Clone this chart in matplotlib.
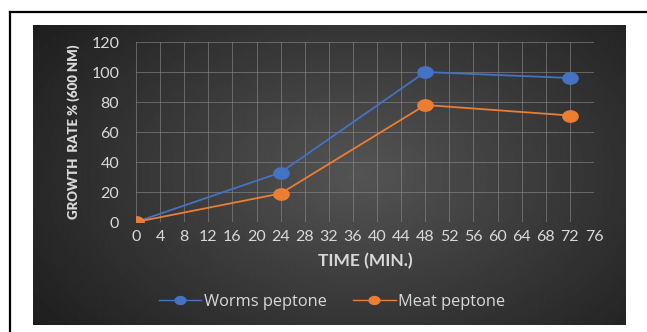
import numpy as np
import matplotlib
matplotlib.use("Agg")
import matplotlib.pyplot as plt
from matplotlib.lines import Line2D
from matplotlib.path import Path

time_min = [0, 24, 48, 72]
worms = [0, 33, 100, 96]
meat = [0, 19, 78, 71]
xticks = list(range(0, 77, 4))
yticks = list(range(0, 121, 20))

BLUE = "#4472C4"
ORANGE = "#ED7D31"
TXT = "#D9D9D9"

W, H = 647, 332
fig = plt.figure(figsize=(W / 100, H / 100), dpi=100)
fig.patch.set_facecolor("white")

# outer frame lines
fig.add_artist(Line2D([10 / W, 10 / W], [0, 1 - 12 / H], color="black", lw=1.6))
fig.add_artist(Line2D([10 / W, 1], [1 - 12 / H, 1 - 12 / H], color="black", lw=1.6))

# dark gradient panel
bg = fig.add_axes([33 / W, 7 / H, 593 / W, 300 / H])
yy, xx = np.mgrid[0:1:300j, 0:1:600j]
r = np.sqrt(((xx - 0.55) / 0.7) ** 2 + ((yy - 0.5) / 0.9) ** 2)
shade = np.clip(0.33 - 0.22 * r, 0.12, 0.33)
bg.imshow(shade, cmap="gray", vmin=0, vmax=1, aspect="auto", extent=[0, 1, 0, 1])
bg.set_axis_off()

# wide oval marker like the original
t = np.linspace(0, 2 * np.pi, 40)
oval = Path(np.column_stack([1.35 * np.cos(t), np.sin(t)]))

ax = fig.add_axes([136 / W, 110 / H, 458 / W, 180 / H])
ax.set_facecolor("none")
ax.plot(time_min, worms, color=BLUE, lw=1.3, marker=oval, ms=11, label="Worms peptone", zorder=3)
ax.plot(time_min, meat, color=ORANGE, lw=1.3, marker=oval, ms=11, label="Meat peptone", zorder=3)
ax.set_xlim(0, 76)
ax.set_ylim(0, 120)
ax.set_xticks(xticks)
ax.set_yticks(yticks)
ax.grid(True, color="#8a8a8a", lw=0.6, alpha=0.7)
for s in ax.spines.values():
    s.set_visible(False)
ax.tick_params(axis="y", length=0, colors=TXT, labelsize=11.5, pad=12)
ax.tick_params(axis="x", length=0, colors=TXT, labelsize=11.5, pad=6)
for lab in ax.get_xticklabels() + ax.get_yticklabels():
    lab.set_fontfamily("Lato")
ax.set_xlabel("TIME (MIN.)", color=TXT, fontsize=12.5, fontweight="bold", fontfamily="Lato", labelpad=6)
ax.set_ylabel("GROWTH  RATE % (600 NM)", color=TXT, fontsize=9.5, fontweight="heavy",
              fontfamily="Lato", labelpad=8)

leg = fig.legend(loc="center", bbox_to_anchor=(332 / W, 1 - 302 / H), ncol=2, frameon=False,
                 handlelength=2.6, handletextpad=0.15, columnspacing=1.6, markerscale=0.7,
                 prop={"family": "Open Sans", "size": 11.8})
for t in leg.get_texts():
    t.set_color(TXT)
for h in leg.legend_handles:
    h.set_linewidth(1.0)

fig.savefig("out.png", dpi=100)
